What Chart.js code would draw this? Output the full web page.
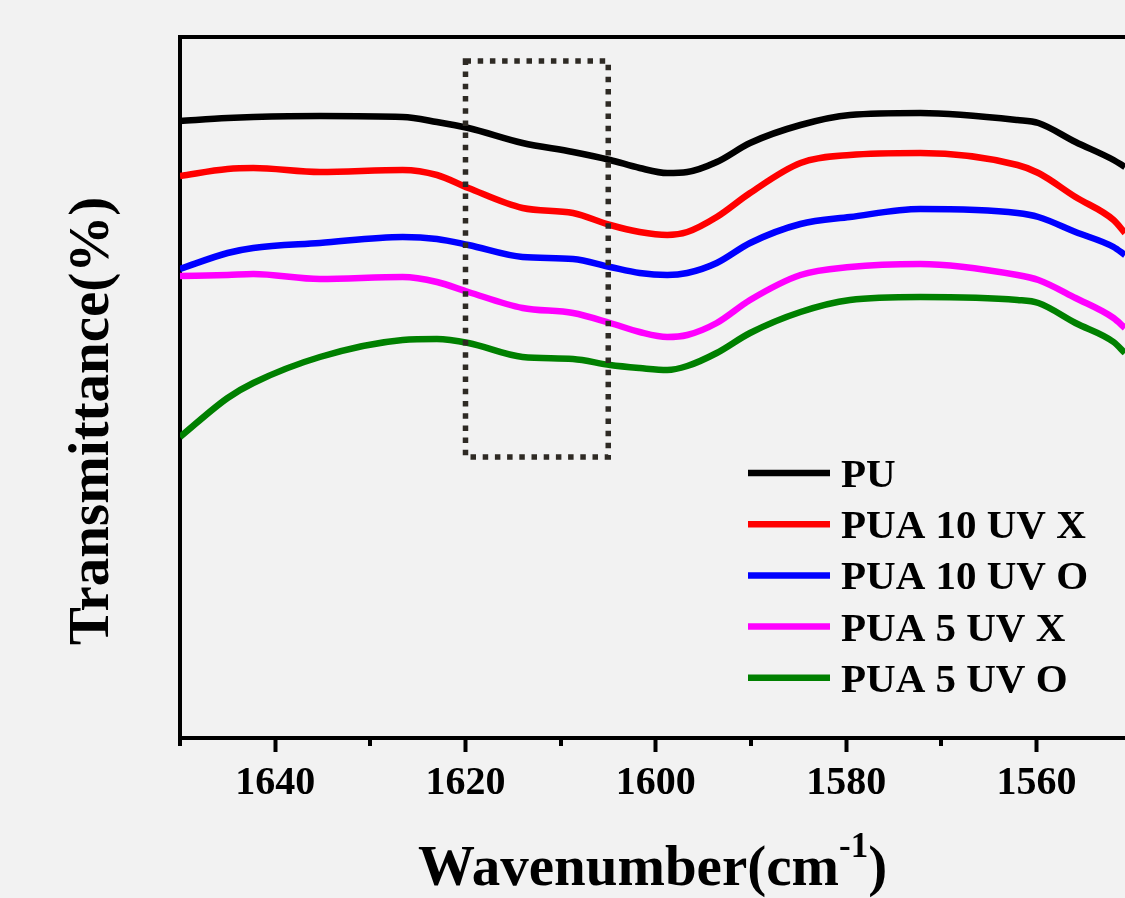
<!DOCTYPE html>
<html>
<head>
<meta charset="utf-8">
<title>FTIR 1650-1550</title>
<script src="https://cdn.jsdelivr.net/npm/chart.js@4.4.1/dist/chart.umd.min.js"></script>
<style>
    html, body { margin: 0; padding: 0; background: #f2f2f2; overflow: hidden; }
    canvas { display: block; }
</style>
</head>
<body>
<canvas id="ftir-chart" width="1125" height="898"></canvas>
<script>
// Wavenumber (cm-1) of each sampled point
const wavenumbers = [1650, 1645, 1642.3, 1635.3, 1626.6, 1623, 1619.7, 1614, 1608.7, 1604.8, 1601.7, 1598.8,
    1596.7, 1593.6, 1590.1, 1584.8, 1579.6, 1572.2, 1562, 1559.8, 1555.9, 1551.9, 1550.7];

// Transmittance (arbitrary offset units) per sample
const puValues = [61.7, 62.0, 62.1, 62.2, 62.1, 61.6, 61.0, 59.5, 58.6, 57.8, 57.0, 56.5,
    56.6, 57.6, 59.5, 61.3, 62.3, 62.5, 61.8, 61.5, 59.6, 57.8, 57.1];
const pua10UvXValues = [56.2, 56.9, 57.0, 56.6, 56.8, 56.3, 55.0, 53.0, 52.5, 51.3, 50.6, 50.3,
    50.6, 52.1, 54.5, 57.5, 58.3, 58.5, 57.3, 56.5, 54.1, 51.8, 50.5];
const pua10UvOValues = [46.9, 48.5, 49.0, 49.5, 50.1, 49.9, 49.3, 48.1, 47.9, 47.1, 46.5, 46.3,
    46.5, 47.5, 49.5, 51.4, 52.1, 52.9, 52.5, 52.1, 50.6, 49.1, 48.3];
const pua5UvXValues = [46.2, 46.3, 46.4, 45.9, 46.1, 45.6, 44.6, 43.0, 42.5, 41.5, 40.6, 40.1,
    40.3, 41.5, 43.8, 46.3, 47.1, 47.4, 46.3, 45.8, 44.0, 42.0, 41.0];
const pua5UvOValues = [30.1, 34.0, 35.5, 38.1, 39.8, 39.9, 39.5, 38.1, 37.9, 37.3, 37.0, 36.8,
    37.2, 38.5, 40.5, 42.6, 43.8, 44.1, 43.8, 43.5, 41.5, 39.6, 38.5];

const seriesNames = ['PU', 'PUA 10 UV X', 'PUA 10 UV O', 'PUA 5 UV X', 'PUA 5 UV O'];
const seriesColors = ['#000000', '#ff0000', '#0000ff', '#ff00ff', '#008000'];

// Axis ranges and ticks
const xRange = [1550.7, 1650];
const yRange = [0, 70.1];
const majorTicks = [1640, 1620, 1600, 1580, 1560];
const minorTicks = [1650, 1630, 1610, 1590, 1570];

// Highlighted region (dotted box)
const boxX = [1605, 1620];
const boxY = [28.1, 67.7];

const FONT = "'Liberation Serif', 'Times New Roman', serif";

/**
 * Frame, minor ticks, dotted box, legend and axis titles
 */
const decorPlugin = {
    id: 'decor',
    afterDraw(chart) {
        const ctx = chart.ctx;
        const area = chart.chartArea;
        const xs = chart.scales.x;
        const ys = chart.scales.y;

        ctx.save();

        // top frame line
        ctx.strokeStyle = '#000';
        ctx.lineWidth = 4;
        ctx.beginPath();
        ctx.moveTo(area.left - 2, area.top);
        ctx.lineTo(area.right, area.top);
        ctx.stroke();

        // minor ticks
        minorTicks.forEach(v => {
            const px = Math.round(xs.getPixelForValue(v));
            ctx.beginPath();
            ctx.moveTo(px, area.bottom);
            ctx.lineTo(px, area.bottom + 8);
            ctx.stroke();
        });

        // dotted box
        ctx.strokeStyle = '#2e2a24';
        ctx.lineWidth = 5.5;
        ctx.setLineDash([5.5, 6.7]);
        ctx.strokeRect(
            xs.getPixelForValue(boxX[1]), ys.getPixelForValue(boxY[1]),
            xs.getPixelForValue(boxX[0]) - xs.getPixelForValue(boxX[1]),
            ys.getPixelForValue(boxY[0]) - ys.getPixelForValue(boxY[1])
        );
        ctx.setLineDash([]);

        // legend
        ctx.font = 'bold 41px ' + FONT;
        ctx.textBaseline = 'alphabetic';
        ctx.textAlign = 'left';
        seriesNames.forEach((name, i) => {
            const y = 473 + i * 51.2;
            ctx.strokeStyle = seriesColors[i];
            ctx.lineWidth = 6.5;
            ctx.beginPath();
            ctx.moveTo(748, y);
            ctx.lineTo(830, y);
            ctx.stroke();
            ctx.fillStyle = '#000';
            ctx.fillText(name, 841, y + 14);
        });

        // x axis title with superscript
        const cx = (area.left + area.right) / 2;
        const base = 885;
        ctx.font = 'bold 57px ' + FONT;
        const wMain = ctx.measureText('Wavenumber(cm').width;
        const wClose = ctx.measureText(')').width;
        ctx.font = 'bold 35px ' + FONT;
        const wSup = ctx.measureText('-1').width;
        let x0 = cx - (wMain + wSup + wClose) / 2;
        ctx.font = 'bold 57px ' + FONT;
        ctx.fillText('Wavenumber(cm', x0, base);
        ctx.font = 'bold 35px ' + FONT;
        ctx.fillText('-1', x0 + wMain, base - 28);
        ctx.font = 'bold 57px ' + FONT;
        ctx.fillText(')', x0 + wMain + wSup, base);

        // y axis title
        ctx.translate(108, 421);
        ctx.rotate(-Math.PI / 2);
        ctx.textAlign = 'center';
        ctx.fillText('Transmittance(%)', 0, 0);

        ctx.restore();
    }
};

const datasets = [puValues, pua10UvXValues, pua10UvOValues, pua5UvXValues, pua5UvOValues].map((vals, i) => ({
    label: seriesNames[i],
    data: vals.map((v, j) => ({ x: wavenumbers[j], y: v })),
    borderColor: seriesColors[i],
    backgroundColor: seriesColors[i],
    borderWidth: 6.5,
    pointRadius: 0,
    cubicInterpolationMode: 'monotone',
    fill: false
}));

const chart = new Chart(document.getElementById('ftir-chart'), {
    type: 'line',
    data: { datasets: datasets },
    options: {
        responsive: false,
        animation: false,
        devicePixelRatio: 1,
        layout: { padding: { top: 37, left: 0, right: 0, bottom: 0 } },
        plugins: {
            legend: { display: false },
            tooltip: { enabled: false }
        },
        scales: {
            x: {
                type: 'linear',
                reverse: true,
                min: xRange[0],
                max: xRange[1],
                afterBuildTicks: scale => {
                    scale.ticks = majorTicks.map(v => ({ value: v }));
                },
                afterFit: scale => { scale.height = 160; },
                grid: {
                    display: true,
                    drawOnChartArea: false,
                    drawTicks: true,
                    tickLength: 14,
                    tickWidth: 4,
                    tickColor: '#000'
                },
                border: { display: true, color: '#000', width: 4 },
                ticks: {
                    color: '#000',
                    padding: 8,
                    maxRotation: 0,
                    font: { family: FONT, size: 40, weight: 'bold' },
                    callback: value => String(value)
                }
            },
            y: {
                min: yRange[0],
                max: yRange[1],
                afterFit: scale => { scale.width = 180; },
                grid: { display: false },
                border: { display: true, color: '#000', width: 4 },
                ticks: { display: false }
            }
        }
    },
    plugins: [decorPlugin]
});
</script>
</body>
</html>
